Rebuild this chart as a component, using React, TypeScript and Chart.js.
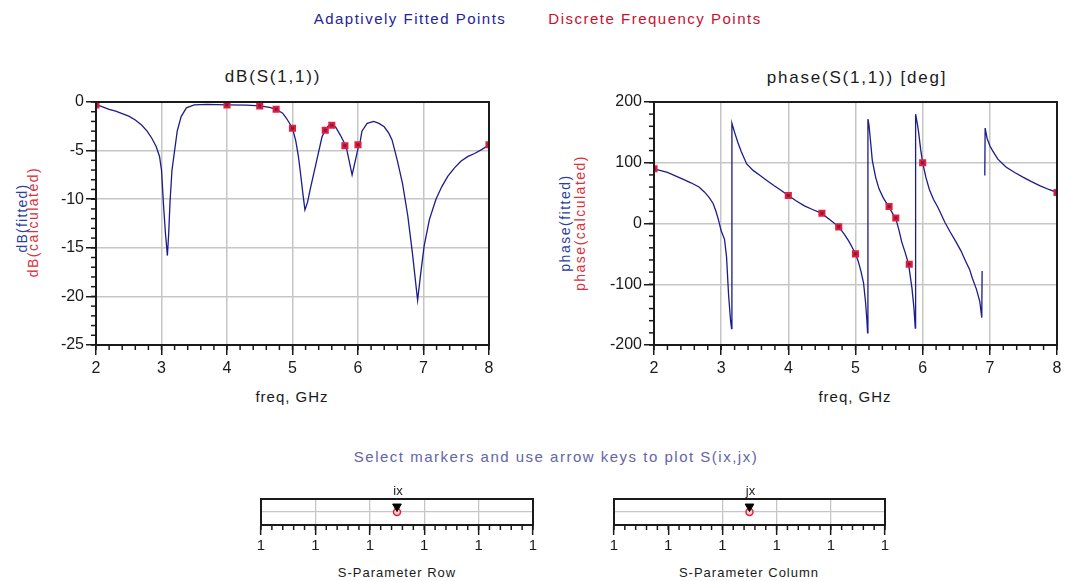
import React, { useEffect, useRef } from 'react';
import { Chart, registerables } from 'chart.js';

Chart.register(...registerables);

const FONT = '"Liberation Sans", Arial, Helvetica, sans-serif';

// ---------- data ----------
const fittedFreqDb = [2.0, 2.1, 2.2, 2.3, 2.4, 2.5, 2.6, 2.7, 2.78, 2.85, 2.92, 2.97, 3.0, 3.03, 3.06, 3.09, 3.11, 3.13, 3.16, 3.2, 3.24, 3.3, 3.38, 3.5, 3.7, 4.0, 4.3, 4.5, 4.65, 4.75, 4.85, 4.91, 5.0, 5.05, 5.09, 5.12, 5.16, 5.19, 5.23, 5.27, 5.32, 5.37, 5.45, 5.5, 5.55, 5.6, 5.66, 5.73, 5.82, 5.87, 5.91, 5.96, 6.0, 6.03, 6.06, 6.14, 6.24, 6.32, 6.4, 6.47, 6.52, 6.6, 6.68, 6.76, 6.83, 6.91, 6.96, 7.01, 7.09, 7.19, 7.28, 7.37, 7.47, 7.57, 7.68, 7.78, 7.9, 8.0];
const fittedDb = [-0.25, -0.5, -0.75, -0.95, -1.2, -1.45, -1.85, -2.4, -3.0, -3.7, -4.6, -5.6, -7.0, -10.5, -13.5, -15.8, -13.5, -10.3, -7.0, -5.0, -3.0, -1.5, -0.6, -0.3, -0.25, -0.3, -0.32, -0.4, -0.55, -0.75, -1.15, -1.7, -2.7, -4.0, -5.6, -7.2, -9.5, -11.1, -10.3, -9.0, -7.5, -6.0, -3.6, -2.85, -2.45, -2.25, -2.6, -3.4, -4.6, -6.2, -7.5, -6.0, -4.8, -4.2, -3.0, -2.2, -2.0, -2.2, -2.55, -3.2, -3.9, -6.0, -8.4, -11.7, -15.5, -20.4, -17.5, -14.8, -12.1, -10.0, -8.7, -7.65, -6.8, -6.1, -5.6, -5.3, -4.85, -4.4];

const fittedFreqPhase = [2.0, 2.2, 2.42, 2.55, 2.67, 2.75, 2.82, 2.88, 2.92, 2.96, 3.0, 3.05, 3.08, 3.11, 3.14, 3.155, 3.16, 3.2, 3.25, 3.3, 3.38, 3.48, 3.58, 3.69, 3.79, 3.9, 4.0, 4.12, 4.24, 4.36, 4.49, 4.62, 4.75, 4.83, 4.9, 4.95, 5.0, 5.04, 5.08, 5.12, 5.15, 5.17, 5.18, 5.185, 5.2, 5.22, 5.25, 5.3, 5.35, 5.41, 5.47, 5.5, 5.57, 5.6, 5.65, 5.69, 5.74, 5.79, 5.84, 5.87, 5.89, 5.895, 5.92, 5.94, 5.97, 6.0, 6.05, 6.1, 6.16, 6.23, 6.33, 6.41, 6.49, 6.57, 6.64, 6.7, 6.74, 6.8, 6.85, 6.88, 6.885, 6.9, 6.925, 6.93, 6.96, 7.0, 7.04, 7.12, 7.24, 7.37, 7.5, 7.62, 7.75, 7.88, 8.0];
const fittedPhase: (number | null)[] = [90, 84, 73.5, 67, 60, 52, 43, 33, 21, 6, -12, -26, -55, -117, -160, -173, 165, 150, 133, 118, 98, 87, 79, 70, 62, 54, 46, 37, 29, 23, 17, 6, -5.5, -17, -29, -39, -50, -62, -78, -98, -130, -160, -180, 172, 163, 140, 104, 76, 57, 43, 32, 27, 13, 8, -12, -31, -48, -67, -106, -139, -172, 180, 165, 150, 122, 100, 75, 56, 40, 26, 2, -14, -29, -45, -62, -76, -90, -108, -128, -155, -78, null, 79, 157, 140, 128, 120, 106, 93, 84, 76, 69, 62, 56, 51];

const discreteFreq = [2, 4, 4.5, 4.75, 5, 5.5, 5.6, 5.8, 6, 8];
const discreteDb = [-0.3, -0.3, -0.4, -0.75, -2.7, -2.9, -2.4, -4.5, -4.4, -4.4];
const discretePhase = [90, 46, 17, -5.5, -50, 28, 9, -67, 100, 51];

const sliderTickValues = [0.5, 0.7, 0.9, 1.1, 1.3, 1.5];
const sliderTickLabels = ['1', '1', '1', '1', '1', '1'];
const rowMarker = [1];
const colMarker = [1];

// ---------- styles ----------
const NAVY = '#1c1c8a';
const RED = '#e3203a';
const GRID = '#c6c6c6';
const INK = '#1a1a1a';

const zip = (xs: number[], ys: (number | null)[]) => xs.map((x, i) => ({ x, y: ys[i] as number }));

const framePlugin = {
  id: 'frameMinor',
  afterDraw(chart: any, _args: any, opts: any) {
    const ctx = chart.ctx;
    const a = chart.chartArea;
    ctx.save();
    ctx.strokeStyle = INK;
    ctx.lineWidth = 1.5;
    const steps = (opts && opts.steps) || {};
    for (const id of Object.keys(steps)) {
      const scale = chart.scales[id];
      const step = steps[id];
      if (!scale || !step) continue;
      const n = Math.round((scale.max - scale.min) / step);
      for (let i = 0; i <= n; i++) {
        const p = scale.getPixelForValue(scale.min + i * step);
        ctx.beginPath();
        if (scale.isHorizontal()) {
          ctx.moveTo(p, a.bottom);
          ctx.lineTo(p, a.bottom + 5);
        } else {
          ctx.moveTo(a.left, p);
          ctx.lineTo(a.left - 5, p);
        }
        ctx.stroke();
      }
    }
    ctx.lineWidth = 2;
    ctx.strokeRect(a.left, a.top, a.right - a.left, a.bottom - a.top);
    ctx.restore();
  },
};

const markerLabelPlugin = {
  id: 'markerLabel',
  afterDraw(chart: any, _args: any, opts: any) {
    if (!opts || !opts.text) return;
    const meta = chart.getDatasetMeta(0);
    const el = meta.data[0];
    if (!el) return;
    const ctx = chart.ctx;
    ctx.save();
    ctx.fillStyle = INK;
    ctx.font = `13px ${FONT}`;
    ctx.textAlign = 'center';
    ctx.textBaseline = 'bottom';
    ctx.fillText(opts.text, el.x + 1, chart.chartArea.top - 1);
    ctx.restore();
  },
};

function mainConfig(p: {
  fitted: { x: number; y: number }[];
  discrete: { x: number; y: number }[];
  yMin: number;
  yMax: number;
  yStep: number;
  yMinor: number;
  yWidth: number;
  padRight: number;
}): any {
  const tickFont = { family: FONT, size: 16 };
  return {
    type: 'scatter',
    data: {
      datasets: [
        {
          label: 'calculated',
          data: p.discrete,
          pointStyle: 'rect',
          pointRadius: 3.6,
          backgroundColor: '#8a1450',
          borderColor: RED,
          borderWidth: 2,
          showLine: false,
        },
        {
          label: 'fitted',
          data: p.fitted,
          showLine: true,
          borderColor: NAVY,
          borderWidth: 1.3,
          pointRadius: 0,
          tension: 0,
          spanGaps: false,
        },
      ],
    },
    options: {
      animation: false,
      responsive: false,
      maintainAspectRatio: false,
      events: [],
      layout: { padding: { top: 22, right: p.padRight, left: 0, bottom: 0 } },
      plugins: {
        legend: { display: false },
        tooltip: { enabled: false },
        frameMinor: { steps: { x: 0.2, y: p.yMinor } },
      },
      scales: {
        x: {
          type: 'linear',
          min: 2,
          max: 8,
          ticks: { stepSize: 1, color: INK, font: tickFont, padding: 4, maxRotation: 0, autoSkip: false },
          grid: { color: GRID, lineWidth: 1.5, tickLength: 10, tickColor: INK, tickWidth: 1.5 },
          border: { color: INK, width: 2 },
          afterFit: (s: any) => {
            s.height = 35;
          },
        },
        y: {
          type: 'linear',
          min: p.yMin,
          max: p.yMax,
          ticks: { stepSize: p.yStep, color: INK, font: tickFont, padding: 2, autoSkip: false },
          grid: { color: GRID, lineWidth: 1.5, tickLength: 10, tickColor: INK, tickWidth: 1.5 },
          border: { color: INK, width: 2 },
          afterFit: (s: any) => {
            s.width = p.yWidth;
          },
        },
      },
    },
    plugins: [framePlugin],
  };
}

function sliderConfig(p: { marker: number[]; text: string; padLeft: number; padRight: number; hiddenGrid: number[] }): any {
  return {
    type: 'scatter',
    data: {
      datasets: [
        {
          data: p.marker.map((v) => ({ x: v, y: 1.42 })),
          pointStyle: 'triangle',
          rotation: 180,
          pointRadius: 5,
          backgroundColor: '#000',
          borderColor: '#000',
          borderWidth: 1,
        },
        {
          data: p.marker.map((v) => ({ x: v, y: 1 })),
          pointStyle: 'circle',
          pointRadius: 3.5,
          backgroundColor: '#f3d0d0',
          borderColor: RED,
          borderWidth: 1.5,
        },
      ],
    },
    options: {
      animation: false,
      responsive: false,
      maintainAspectRatio: false,
      events: [],
      layout: { padding: { top: 21, right: p.padRight, left: p.padLeft, bottom: 0 } },
      plugins: {
        legend: { display: false },
        tooltip: { enabled: false },
        frameMinor: { steps: { x: 0.04 } },
        markerLabel: { text: p.text },
      },
      scales: {
        x: {
          type: 'linear',
          min: 0.5,
          max: 1.5,
          afterBuildTicks: (s: any) => {
            s.ticks = sliderTickValues.map((v) => ({ value: v }));
          },
          ticks: {
            color: INK,
            font: { family: FONT, size: 15 },
            padding: 2,
            maxRotation: 0,
            autoSkip: false,
            callback: (_v: any, i: number) => sliderTickLabels[i],
          },
          grid: {
            color: (c: any) => (p.hiddenGrid.includes(c.index) ? 'rgba(0,0,0,0)' : GRID),
            lineWidth: 1.3,
            tickLength: 10,
            tickColor: INK,
            tickWidth: 1.5,
          },
          border: { color: INK, width: 2 },
          afterFit: (s: any) => {
            s.height = 33;
          },
        },
        y: {
          type: 'linear',
          min: 0,
          max: 2,
          afterBuildTicks: (s: any) => {
            s.ticks = [0, 1, 2].map((v) => ({ value: v }));
          },
          ticks: { display: false },
          grid: {
            color: (c: any) => (c.tick && c.tick.value === 1 ? GRID : 'rgba(0,0,0,0)'),
            lineWidth: 1.3,
            drawTicks: false,
          },
          border: { display: false },
          afterFit: (s: any) => {
            s.width = 0;
          },
        },
      },
    },
    plugins: [framePlugin, markerLabelPlugin],
  };
}

function Label(props: {
  x: number;
  y: number;
  children: React.ReactNode;
  size?: number;
  color?: string;
  spacing?: number;
  rotate?: boolean;
}) {
  const { x, y, children, size = 15, color = INK, spacing = 1, rotate = false } = props;
  return (
    <div
      style={{
        position: 'absolute',
        left: x,
        top: y,
        transform: `translate(-50%, -50%)${rotate ? ' rotate(-90deg)' : ''}`,
        fontSize: size,
        color,
        letterSpacing: spacing,
        whiteSpace: 'nowrap',
        lineHeight: 1,
        fontFamily: FONT,
      }}
    >
      {children}
    </div>
  );
}

export default function App() {
  const dbRef = useRef<HTMLCanvasElement>(null);
  const phRef = useRef<HTMLCanvasElement>(null);
  const rowRef = useRef<HTMLCanvasElement>(null);
  const colRef = useRef<HTMLCanvasElement>(null);

  useEffect(() => {
    document.body.style.margin = '0';
    const charts: Chart[] = [];
    charts.push(
      new Chart(
        dbRef.current!,
        mainConfig({
          fitted: zip(fittedFreqDb, fittedDb),
          discrete: zip(discreteFreq, discreteDb),
          yMin: -25,
          yMax: 0,
          yStep: 5,
          yMinor: 1,
          yWidth: 96,
          padRight: 41,
        })
      )
    );
    charts.push(
      new Chart(
        phRef.current!,
        mainConfig({
          fitted: zip(fittedFreqPhase, fittedPhase),
          discrete: zip(discreteFreq, discretePhase),
          yMin: -200,
          yMax: 200,
          yStep: 100,
          yMinor: 20,
          yWidth: 114,
          padRight: 10,
        })
      )
    );
    charts.push(new Chart(rowRef.current!, sliderConfig({ marker: rowMarker, text: 'ix', padLeft: 25, padRight: 23, hiddenGrid: [0, 5] })));
    charts.push(new Chart(colRef.current!, sliderConfig({ marker: colMarker, text: 'jx', padLeft: 25, padRight: 24, hiddenGrid: [0, 1, 5] })));
    return () => charts.forEach((c) => c.destroy());
  }, []);

  const BLUE_T = '#2a3f9e';
  const RED_T = '#d9303a';

  return (
    <div style={{ position: 'relative', width: 1067, height: 581, background: '#fff', overflow: 'hidden', fontFamily: FONT }}>
      <Label x={410} y={18} color="#23239a" spacing={1.5}>Adaptively Fitted Points</Label>
      <Label x={655} y={18} color="#c8102e" spacing={1.5}>Discrete Frequency Points</Label>

      <Label x={273} y={76} size={17} spacing={1.8}>dB(S(1,1))</Label>
      <Label x={857} y={77} size={17} spacing={1.8}>phase(S(1,1)) [deg]</Label>

      <Label x={22} y={218} size={14} color={BLUE_T} spacing={1.2} rotate>dB(fitted)</Label>
      <Label x={33} y={222} size={14} color={RED_T} spacing={1.5} rotate>dB(calculated)</Label>
      <Label x={565} y={223} size={14} color={BLUE_T} spacing={1.5} rotate>phase(fitted)</Label>
      <Label x={580} y={223} size={14} color={RED_T} spacing={1.5} rotate>phase(calculated)</Label>

      <canvas ref={dbRef} width={530} height={300} style={{ position: 'absolute', left: 0, top: 80, width: 530, height: 300 }} />
      <canvas ref={phRef} width={527} height={300} style={{ position: 'absolute', left: 540, top: 80, width: 527, height: 300 }} />

      <Label x={292} y={396} size={15} spacing={1}>freq, GHz</Label>
      <Label x={855} y={396} size={15} spacing={1}>freq, GHz</Label>

      <Label x={556} y={456} size={15} color="#6464a8" spacing={1.5}>Select markers and use arrow keys to plot S(ix,jx)</Label>

      <canvas ref={rowRef} width={320} height={80} style={{ position: 'absolute', left: 236, top: 478, width: 320, height: 80 }} />
      <canvas ref={colRef} width={320} height={80} style={{ position: 'absolute', left: 589, top: 478, width: 320, height: 80 }} />

      <Label x={397} y={572} size={13} spacing={1}>S-Parameter Row</Label>
      <Label x={749} y={572} size={13} spacing={1}>S-Parameter Column</Label>
    </div>
  );
}
